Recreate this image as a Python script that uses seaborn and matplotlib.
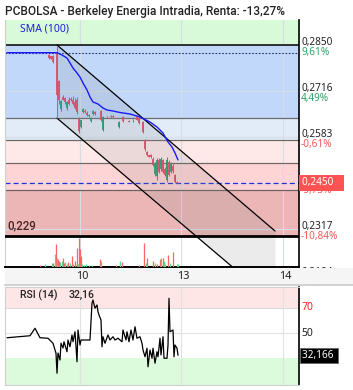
import numpy as np
import pandas as pd
import matplotlib
matplotlib.use("Agg")
import matplotlib.pyplot as plt
import seaborn as sns

# ------------------------------------------------------------------ data
title = "PCBOLSA - Berkeley Energia Intradia, Renta: -13,27%"
day_ticks = [36.5, 87, 138]          # bar index where each session starts
day_labels = ["10", "13", "14"]

# intraday candles (bar index, open, high, low, close)
bar_t = [16, 21, 22, 23, 25, 26, 27, 28, 29, 30, 31, 32, 33, 34, 35, 36, 37, 38,
         39, 40, 41, 42, 43, 44, 47, 48, 50, 52, 53, 56, 58, 61, 63, 65, 66, 68,
         69, 70, 71, 72, 73, 74, 75, 76, 77, 78, 79, 80, 81, 82, 83, 84, 85]
opens = [.2829, .2822, .2818, .2818, .2828, .2745, .2665, .2700, .2696, .2668, .2692, .2694,
         .2690, .2686, .2692, .2636, .2613, .2655, .2660, .2653, .2645, .2630, .2650, .2655,
         .2660, .2603, .2642, .2643, .2644, .2612, .2641, .2630, .2634, .2640, .2638, .2628,
         .2575, .2540, .2530, .2530, .2520, .2475, .2470, .2516, .2490, .2518, .2490, .2460,
         .2512, .2482, .2500, .2474, .2452]
highs = [.2829, .2824, .2818, .2820, .2848, .2750, .2690, .2705, .2700, .2688, .2698, .2700,
         .2702, .2695, .2700, .2640, .2634, .2668, .2664, .2658, .2650, .2640, .2662, .2660,
         .2662, .2644, .2645, .2646, .2646, .2630, .2643, .2632, .2636, .2642, .2641, .2630,
         .2578, .2542, .2531, .2535, .2524, .2510, .2522, .2522, .2526, .2520, .2496, .2524,
         .2518, .2510, .2504, .2476, .2456]
lows = [.2826, .2808, .2809, .2798, .2638, .2680, .2660, .2690, .2680, .2663, .2676, .2688,
        .2675, .2665, .2650, .2596, .2610, .2652, .2652, .2645, .2640, .2628, .2646, .2648,
        .2630, .2600, .2638, .2640, .2638, .2608, .2628, .2626, .2628, .2632, .2622, .2595,
        .2544, .2528, .2524, .2522, .2498, .2470, .2458, .2478, .2486, .2478, .2470, .2452,
        .2470, .2478, .2480, .2450, .2450]
closes = [.2826, .2812, .2810, .2800, .2705, .2690, .2688, .2692, .2684, .2686, .2679, .2690,
          .2678, .2668, .2656, .2600, .2632, .2664, .2655, .2648, .2648, .2637, .2660, .2650,
          .2634, .2641, .2640, .2642, .2640, .2628, .2630, .2628, .2633, .2634, .2625, .2598,
          .2548, .2531, .2526, .2524, .2502, .2506, .2516, .2482, .2520, .2482, .2474, .2516,
          .2474, .2506, .2484, .2452, .2450]

# SMA(100)
sma_t = [0, 25, 27.5, 30, 31.5, 33, 35, 36.5, 38, 40, 41.5, 43, 45.5, 48, 50, 53, 56.5,
         61.5, 66.5, 71.5, 75, 78, 80.5, 82.5, 84, 85.5]
sma_v = [.28277, .28277, .28210, .28123, .27978, .27833, .27688, .27572, .27399, .27196,
         .26993, .26848, .26790, .26674, .26616, .26587, .26543, .26500, .26413, .26268,
         .26123, .25949, .25688, .25543, .25370, .25167]

# volume (thousands of shares), True = up bar
vol_t = [16.5, 19, 22.5, 23, 24, 24.5, 25, 25.5, 26, 26.5, 27.5, 28, 28.5, 29, 30, 30.5, 31.5,
         32.5, 33, 34, 35, 35.5, 36, 36.5, 37, 37.5, 38.5, 39.5, 41, 42.5, 46.5, 47, 54.5,
         56.5, 57.5, 66, 68.5, 69.5, 70, 73, 74, 75, 76.5, 77, 78, 78.5, 79, 80.5, 81.5,
         83, 85, 85.5]
vol_v = [10, 15, 20, 20, 65, 115, 45, 40, 30, 25, 30, 45, 20, 25, 15, 25, 20,
         55, 15, 30, 95, 15, 145, 90, 55, 15, 12, 15, 10, 12, 40, 30, 9,
         30, 27, 9, 120, 22, 47, 30, 22, 14, 38, 47, 47, 30, 14, 60, 22,
         75, 17, 15]
vol_up = [False, True, True, False, True, False, True, False, False, True, True, False, False,
          True, True, False, True, False, True, False, False, True, False, False, False, True,
          True, True, True, True, False, True, False, True, False, False, False, True, False,
          False, True, False, False, True, False, True, True, False, True, False, True, True]

# RSI(14)
rsi_t = [0, 11.5, 14, 16.5, 20.5, 23, 24.5, 25, 25.5, 26.5, 27, 28, 28.5, 30, 30.5, 31.5,
         32.5, 33, 34, 35, 35.5, 36.5, 37, 41.5, 42.5, 43, 44, 45, 45.5, 46, 47, 47.5, 48,
         49, 50.5, 51.5, 53, 54, 55.5, 57.5, 58, 59.5, 60, 61, 62, 63, 64, 65, 66.5, 67.5,
         68, 69, 70, 70.5, 71.5, 72.5, 73, 74, 75, 75.5, 76.5, 77, 78, 78.5, 80, 80.5, 81,
         81.5, 83, 83.5, 84, 85, 85.5]
rsi_v = [46.2, 47.8, 53.8, 46.2, 45.8, 41.8, 33.8, 17.8, 34.0, 28.4, 41.8, 38.0, 43.0, 35.0,
         44.4, 39.0, 48.4, 43.0, 51.0, 27.0, 52.4, 40.4, 44.4, 44.4, 74.0, 76.4, 69.8, 72.4,
         67.0, 64.4, 60.4, 39.0, 47.0, 41.8, 48.4, 44.4, 47.0, 44.4, 45.8, 43.0, 52.4, 44.4,
         51.0, 43.0, 52.4, 44.4, 55.0, 45.8, 47.0, 41.8, 36.4, 31.0, 37.8, 23.0, 36.4, 29.8,
         37.8, 25.8, 35.0, 31.0, 45.8, 32.4, 47.0, 29.8, 29.8, 40.4, 77.8, 51.0, 52.4, 31.0,
         40.4, 37.8, 32.166]
rsi_last = 32.166
rsi_last_label = "32,166"

# Fibonacci levels / right axis
fib_levels = [0.2850, 0.2639, 0.2575, 0.2508, 0.2430, 0.2296]
fib_colors = ["#c1d8fa", "#e1ecf8", "#ffe8e8", "#ffd4d4", "#ecb6b6"]
price_ticks = [0.2850, 0.2716, 0.2583, 0.2450, 0.2317, 0.2184]
price_labels = ["0,2850", "0,2716", "0,2583", "0,2450", "0,2317", "0,2184"]
pct_labels = ["9,61%", "4,49%", "-0,61%", "-5,73%", "-10,84%", "-15,96%"]
last_price = 0.2450
last_label = "0,2450"
ref_price = 0.2828
low_label = "0,229"

# trend channel
channel_t = [25, 134]
channel_upper = [0.2850, 0.2311]
channel_lower = [0.2638, 0.2102]

# ------------------------------------------------------------------ style
sns.set_theme(style="white")
plt.rcParams["font.family"] = ["Noto Sans", "DejaVu Sans"]
MED = ["Roboto", "Noto Sans", "DejaVu Sans"]

RED = "#d6506a"
GREEN = "#2e9a74"
VRED = "#ff6464"
VGREEN = "#58d88c"
PCT_G = "#2ea56a"
PCT_R = "#f55a5a"
GRID = "#d6dde6"

W, H = 353, 390
fig = plt.figure(figsize=(W / 100, H / 100), dpi=100)
fig.patch.set_facecolor("white")


def box(l, t, r, b):
    return [l / W, 1 - b / H, (r - l) / W, (b - t) / H]


ax = fig.add_axes(box(5, 20, 299, 267))
band = fig.add_axes(box(5, 268, 353, 285))
axr = fig.add_axes(box(5, 287, 299, 385), sharex=ax)
ax.set_zorder(1)
band.set_zorder(3)
axr.set_zorder(1)

# ---------------- price panel
ylo, yhi = 0.22065, 0.29225
ax.set_xlim(-1, 146)
ax.set_ylim(ylo, yhi)
ax.set_facecolor("none")
ax.axhspan(fib_levels[0], yhi, color="#d8fad8", lw=0, zorder=0)
for hi_, lo_, c in zip(fib_levels[:-1], fib_levels[1:], fib_colors):
    ax.axhspan(lo_, hi_, color=c, lw=0, zorder=0)
ax.axhspan(ylo, fib_levels[-1], color="white", lw=0, zorder=0)

for p in price_ticks[1:]:
    if p > fib_levels[-1]:
        ax.axhline(p, color=GRID, lw=0.8, zorder=0.5)
for t in day_ticks:
    ax.axvline(t, color=GRID, lw=0.8, zorder=0.5)

ax.axhline(fib_levels[0], color="black", lw=1.1, zorder=1)
for lv in fib_levels[1:-1]:
    ax.axhline(lv, color="#555555", lw=0.9, alpha=0.85, zorder=1)
ax.axhline(fib_levels[-1], color="black", lw=2.0, zorder=6)

ax.axhline(ref_price, color="#22306e", lw=0.8, ls=(0, (1.5, 1.5)), zorder=1.5)
ax.axhline(last_price, color="#2b2bd6", lw=0.9, ls=(0, (4, 2.5)), zorder=1.5)

# channel
ax.fill_between(channel_t, channel_lower, channel_upper, color="#8a8a8a",
                alpha=0.17, lw=0, zorder=2)
ax.plot(channel_t, channel_upper, color="black", lw=0.9, zorder=3)
ax.plot(channel_t, channel_lower, color="black", lw=0.9, zorder=3)

# candles
df = pd.DataFrame(dict(t=bar_t, o=opens, h=highs, l=lows, c=closes))
cols = np.where(df.c >= df.o, GREEN, RED)
ax.vlines(df.t, df.l, df.h, colors=cols, lw=0.7, zorder=4)
ax.vlines(df.t, np.minimum(df.o, df.c), np.maximum(df.o, df.c), colors=cols, lw=1.3, zorder=4)

# SMA
sma = pd.DataFrame(dict(t=sma_t, v=sma_v))
sns.lineplot(data=sma, x="t", y="v", ax=ax, color="#1a1aff", lw=1.0, zorder=5,
             estimator=None, sort=False)

ax.set_xticks([])
ax.set_yticks([])
ax.set_xlabel("")
ax.set_ylabel("")
ax.spines["top"].set_visible(False)
ax.spines["left"].set_color("#d0d0d0")
ax.spines["left"].set_linewidth(0.8)
ax.spines["right"].set_color("black")
ax.spines["right"].set_linewidth(1.2)
ax.spines["bottom"].set_color("black")
ax.spines["bottom"].set_linewidth(1.4)

# volume (twin axis)
vax = ax.twinx()
vax.set_ylim(0, 1235)
vcols = np.where(np.array(vol_up), VGREEN, VRED)
vax.vlines(vol_t, 0, vol_v, colors=vcols, lw=0.9, zorder=4)
vax.set_axis_off()

# labels on price axis
for p, lab, pct in zip(price_ticks, price_labels, pct_labels):
    ax.annotate(lab, xy=(1, p), xycoords=("axes fraction", "data"), xytext=(1.5, 0),
                textcoords="offset points", va="baseline", ha="left", fontsize=7.2,
                color="#222222", annotation_clip=False, zorder=7)
    ax.annotate(pct, xy=(1, p), xycoords=("axes fraction", "data"), xytext=(1.5, -7.2),
                textcoords="offset points", va="baseline", ha="left", fontsize=7.2,
                color=PCT_R if pct.startswith("-") else PCT_G, annotation_clip=False,
                zorder=7)
ax.annotate(last_label + "   ", xy=(1, last_price), xycoords=("axes fraction", "data"),
            xytext=(2.2, 0), textcoords="offset points", va="center", ha="left",
            fontsize=7.2, color="white", annotation_clip=False, zorder=9,
            bbox=dict(boxstyle="square,pad=0.28", fc="#ff5252", ec="none"))

ax.annotate(low_label, xy=(0, fib_levels[-1]), xycoords=("axes fraction", "data"),
            xytext=(1.5, 2.5), textcoords="offset points", va="bottom", ha="left",
            fontsize=8.3, color="#4a2222", family=MED, weight="medium", zorder=7)
ax.text(0.05, 0.965, "SMA (100)", transform=ax.transAxes, color="#1f1fdd",
        fontsize=7.5, weight="bold", va="center", ha="left", zorder=7)

# ---------------- x axis band
band.set_facecolor("#f5f5f5")
band.set_xlim(-1, 173)
band.set_ylim(0, 1)
band.set_xticks([])
band.set_yticks([])
for s in ["top", "left", "right"]:
    band.spines[s].set_visible(False)
band.spines["bottom"].set_color("#cccccc")
for t, lab in zip(day_ticks, day_labels):
    band.annotate(lab, xy=(t, 0.5), xytext=(1.5, 0), textcoords="offset points",
                  ha="center", va="center", fontsize=7.8, weight="bold", color="#222222")

# ---------------- RSI panel
axr.set_ylim(8.4, 86.8)
axr.set_facecolor("white")
axr.axhspan(70, 86.8, color="#ffe6e6", lw=0, zorder=0)
axr.axhspan(8.4, 30, color="#dcfadc", lw=0, zorder=0)
axr.axhline(70, color="#dcdcdc", lw=0.8, zorder=0.5)
axr.axhline(50, color="#e2e2e2", lw=0.8, zorder=0.5)
for t in day_ticks:
    axr.axvline(t, color="#e2e2e2", lw=0.8, zorder=0.5)
rsi = pd.DataFrame(dict(t=rsi_t, v=rsi_v))
sns.lineplot(data=rsi, x="t", y="v", ax=axr, color="black", lw=0.9, zorder=3,
             estimator=None, sort=False)
axr.set_xlabel("")
axr.set_ylabel("")
axr.set_xticks([])
axr.set_yticks([])
for s in ["top", "left", "bottom"]:
    axr.spines[s].set_color("#d0d0d0")
    axr.spines[s].set_linewidth(0.8)
axr.spines["right"].set_color("black")
axr.spines["right"].set_linewidth(1.2)
axr.text(0.05, 0.915, "RSI (14)", transform=axr.transAxes, fontsize=7.6,
         color="#222222", va="center", ha="left", family=MED, weight="medium")
axr.text(0.215, 0.915, "32,16", transform=axr.transAxes, fontsize=7.6,
         color="#222222", va="center", ha="left", family=MED, weight="medium")
axr.annotate("70", xy=(1, 70), xycoords=("axes fraction", "data"), xytext=(1.5, 0),
             textcoords="offset points", va="center", ha="left", fontsize=7.5,
             color="#ff2020", weight="bold", annotation_clip=False)
axr.annotate("50", xy=(1, 50), xycoords=("axes fraction", "data"), xytext=(1.5, 0),
             textcoords="offset points", va="center", ha="left", fontsize=7.5,
             color="#222222", annotation_clip=False)
axr.annotate(rsi_last_label + " ", xy=(1, rsi_last), xycoords=("axes fraction", "data"),
             xytext=(2.2, 0), textcoords="offset points", va="center", ha="left",
             fontsize=7.2, color="white", annotation_clip=False,
             bbox=dict(boxstyle="square,pad=0.2", fc="black", ec="#666666", lw=0.6))

# ---------------- title
fig.text(5 / W, 1 - 11 / H, title, fontsize=8.6, color="#222222", va="center",
         ha="left", family=MED, weight="medium")

fig.savefig("out.png", dpi=100)
